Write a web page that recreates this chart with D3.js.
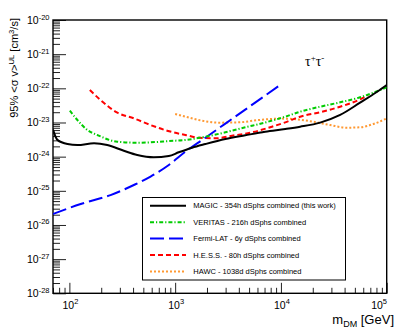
<!DOCTYPE html>
<html>
<head>
<meta charset="utf-8">
<script src="https://cdn.jsdelivr.net/npm/d3@7"></script>
<style>
  body { margin: 0; background: #fff; }
  text { font-family: "Liberation Sans", Arial, sans-serif; }
</style>
</head>
<body>
<div id="chart"></div>
<script>
// upper limits, [m_DM in GeV, <sigma v> in cm^3/s]
const magic = [[70, 6.2e-24], [77, 3.1e-24], [96, 2.34e-24], [119, 2.19e-24], [171, 2.46e-24], [228, 2.19e-24],
  [327, 1.49e-24], [438, 1.12e-24], [628, 9.6e-25], [871, 1.04e-24], [1080, 1.34e-24], [1445, 1.83e-24],
  [1930, 2.34e-24], [2985, 3.28e-24], [4600, 4.22e-24], [7100, 5.37e-24], [11000, 6.44e-24], [15200, 7.52e-24],
  [23500, 9.9e-24], [36300, 1.66e-23], [56000, 3.8e-23], [80600, 7.8e-23], [100000, 1.25e-22]];
const veritas = [[101, 2.21e-23], [119, 1.18e-23], [148, 6.03e-24], [184, 4.3e-24], [284, 2.74e-24], [438, 2.56e-24],
  [676, 2.69e-24], [871, 2.87e-24], [1250, 3.07e-24], [1930, 3.84e-24], [2985, 5.16e-24], [4600, 7.23e-24],
  [7100, 1.0e-23], [11000, 1.48e-23], [15200, 2.07e-23], [23500, 2.9e-23], [36300, 3.9e-23], [56000, 5.46e-23],
  [74900, 7.45e-23], [100000, 1.07e-22]];
const fermi = [[70, 2.1e-26], [128, 4.1e-26], [245, 7.5e-26], [407, 1.48e-25], [585, 2.6e-25], [871, 5.7e-25],
  [1250, 1.4e-24], [1930, 3.58e-24], [2985, 9.3e-24], [4600, 2.38e-23], [7100, 6.17e-23], [9840, 1.25e-22]];
const hess = [[156, 8.9e-23], [197, 4.55e-23], [284, 1.93e-23], [407, 1.32e-23], [585, 8.43e-24], [841, 5.74e-24],
  [1250, 4.3e-24], [1670, 3.58e-24], [2400, 3.44e-24], [3450, 4.1e-24], [5325, 5.16e-24], [8225, 7.52e-24],
  [11000, 1.01e-23], [15200, 1.48e-23], [23500, 1.99e-23], [36300, 2.9e-23], [56000, 4.78e-23], [66700, 6.37e-23]];
const hawc = [[1000, 1.77e-23], [1250, 1.48e-23], [1670, 1.18e-23], [2580, 9.9e-24], [3985, 1.01e-23], [6150, 1.18e-23],
  [9840, 1.3e-23], [13070, 1.26e-23], [20300, 1.05e-23], [29200, 8.43e-24], [41950, 7.03e-24], [56000, 7.23e-24],
  [74900, 9.03e-24], [100000, 1.32e-23]];

const legendLabels = ["MAGIC - 354h dSphs combined (this work)", "VERITAS - 216h dSphs combined",
  "Fermi-LAT - 6y dSphs combined", "H.E.S.S. - 80h dSphs combined", "HAWC - 1038d dSphs combined"];
const xLabelExp = [2, 3, 4, 5];
const yLabelExp = [-20, -21, -22, -23, -24, -25, -26, -27, -28];

const width = 407, height = 330;
const frame = { left: 53, right: 386.7, top: 20, bottom: 293.3 };

const svg = d3.select("#chart").append("svg")
    .attr("width", width)
    .attr("height", height);

const x = d3.scaleLog().domain([70, 1e5]).range([frame.left, frame.right]);
const y = d3.scaleLog().domain([1e-28, 1e-20]).range([frame.bottom, frame.top]);

const isDecade = v => Math.abs(Math.log10(v) - Math.round(Math.log10(v))) < 1e-6;

// clip for curves
svg.append("clipPath").attr("id", "clip")
    .append("rect")
    .attr("x", frame.left).attr("y", frame.top)
    .attr("width", frame.right - frame.left).attr("height", frame.bottom - frame.top);

// ticks (inside the frame, ROOT style)
const xt = x.ticks();
const yt = y.ticks();

function tickAxis(axis, values, size, tx, ty) {
    const g = svg.append("g")
        .attr("transform", `translate(${tx},${ty})`)
        .call(axis.tickValues(values).tickSize(size).tickFormat(""));
    g.select(".domain").remove();
    g.selectAll("line").attr("stroke", "#222").attr("stroke-width", 1);
}
tickAxis(d3.axisBottom(x), xt.filter(v => !isDecade(v)), -5.5, 0, frame.bottom);
tickAxis(d3.axisBottom(x), xt.filter(isDecade), -10.5, 0, frame.bottom);
tickAxis(d3.axisLeft(y), yt.filter(v => !isDecade(v)), -7, frame.left, 0);
tickAxis(d3.axisLeft(y), yt.filter(isDecade), -13, frame.left, 0);

// frame
svg.append("rect")
    .attr("x", frame.left).attr("y", frame.top)
    .attr("width", frame.right - frame.left).attr("height", frame.bottom - frame.top)
    .attr("fill", "none").attr("stroke", "#000").attr("stroke-width", 1.4);

// tick labels
yLabelExp.forEach(e => {
    const t = svg.append("text")
        .attr("x", 49.5)
        .attr("y", y(Math.pow(10, e)) + 4)
        .attr("text-anchor", "end")
        .style("font-size", "10.5px");
    t.append("tspan").text("10");
    t.append("tspan").attr("dy", -4.5).style("font-size", "7.5px").text(e);
});
xLabelExp.forEach((e, i) => {
    const last = i === xLabelExp.length - 1;
    const t = svg.append("text")
        .attr("x", last ? 387 : x(Math.pow(10, e)) + 1)
        .attr("y", 308.5)
        .attr("text-anchor", last ? "end" : "middle")
        .style("font-size", "10.5px");
    t.append("tspan").text("10");
    t.append("tspan").attr("dy", -4.5).style("font-size", "7.5px").text(e);
});

// axis titles
const yTitle = svg.append("text")
    .attr("transform", "translate(18.3,18) rotate(-90)")
    .attr("text-anchor", "end")
    .style("font-size", "11px");
yTitle.append("tspan").text("95% <σ v>");
yTitle.append("tspan").attr("dy", -4.5).style("font-size", "7.7px").text("UL");
yTitle.append("tspan").attr("dy", 4.5).text(" [cm");
yTitle.append("tspan").attr("dy", -4.5).style("font-size", "7.7px").text("3");
yTitle.append("tspan").attr("dy", 4.5).text("/s]");

const xTitle = svg.append("text")
    .attr("x", 394).attr("y", 324)
    .attr("text-anchor", "end")
    .style("font-size", "13px");
xTitle.append("tspan").text("m");
xTitle.append("tspan").attr("dy", 3).style("font-size", "9px").text("DM");
xTitle.append("tspan").attr("dy", -3).text(" [GeV]");

// channel label
const chan = svg.append("text")
    .attr("x", 305).attr("y", 66)
    .style("font-family", "'Liberation Serif', serif")
    .style("font-size", "14px");
chan.append("tspan").text("τ");
chan.append("tspan").attr("dy", -5).style("font-size", "9px").text("+");
chan.append("tspan").attr("dy", 5).text("τ");
chan.append("tspan").attr("dy", -5).style("font-size", "9px").text("-");

// curves
const series = [
    { data: magic, color: "#000000", dash: null },
    { data: veritas, color: "#00cc00", dash: "4,2,1.2,2" },
    { data: fermi, color: "#0000ff", dash: "14,5" },
    { data: hess, color: "#ff0000", dash: "5,3" },
    { data: hawc, color: "#ff9933", dash: "2,2" }
];

const line = d3.line()
    .x(d => x(d[0]))
    .y(d => y(d[1]))
    .curve(d3.curveMonotoneX);

const curves = svg.append("g").attr("clip-path", "url(#clip)");
series.slice().reverse().forEach(s => {
    curves.append("path")
        .datum(s.data)
        .attr("d", line)
        .attr("fill", "none")
        .attr("stroke", s.color)
        .attr("stroke-width", 2)
        .attr("stroke-dasharray", s.dash);
});

// legend
const legend = svg.append("g");
legend.append("rect")
    .attr("x", 142.5).attr("y", 197.5)
    .attr("width", 203).attr("height", 82.5)
    .attr("fill", "#fff").attr("stroke", "#000").attr("stroke-width", 1);

series.forEach((s, i) => {
    const cy = 205.7 + i * 16.45;
    legend.append("line")
        .attr("x1", 150).attr("x2", 186)
        .attr("y1", cy).attr("y2", cy)
        .attr("stroke", s.color)
        .attr("stroke-width", 2)
        .attr("stroke-dasharray", s.dash);
    legend.append("text")
        .attr("x", 193.3).attr("y", cy + 2.7)
        .style("font-size", "7.5px")
        .text(legendLabels[i]);
});
</script>
</body>
</html>
